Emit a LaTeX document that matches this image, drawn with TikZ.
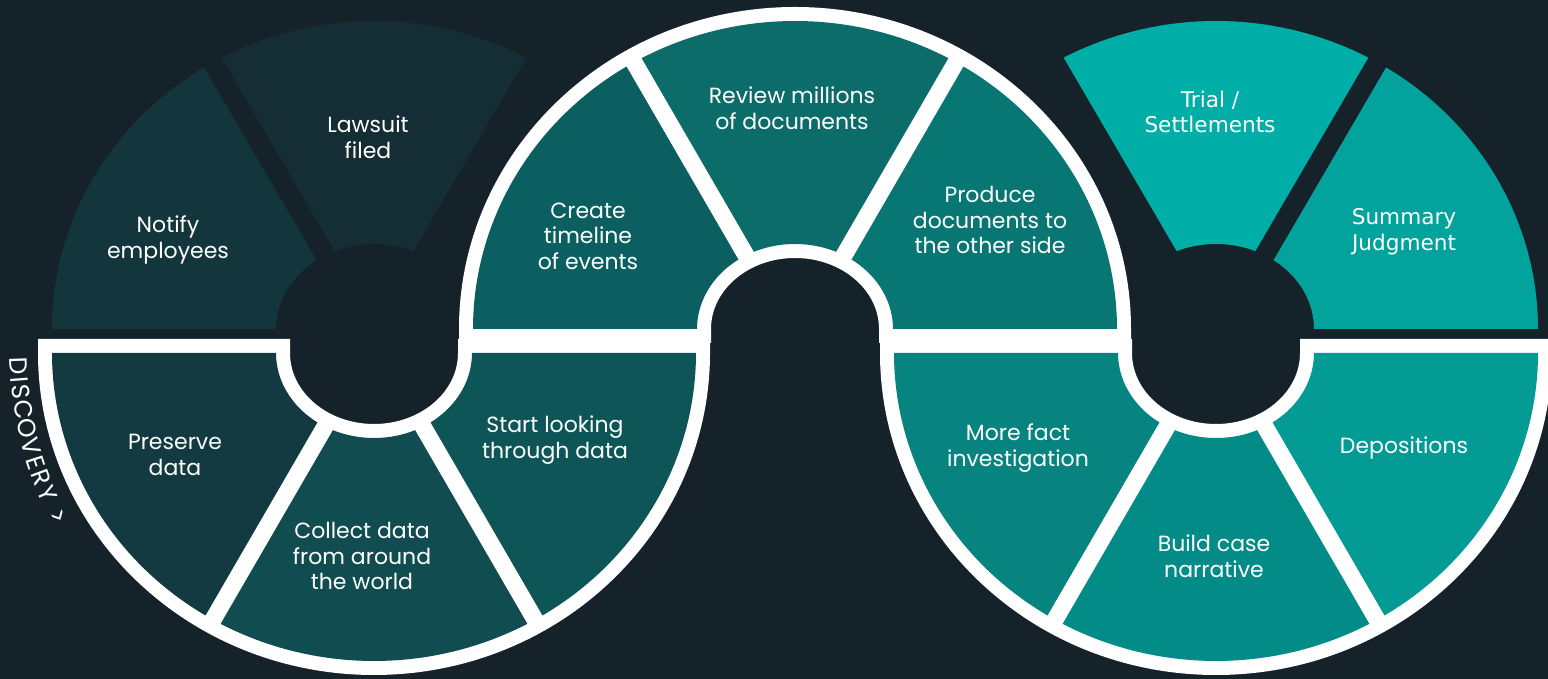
\documentclass[tikz,border=0pt]{standalone}
\usepackage{fontspec}
\setmainfont{Poppins}
\newfontfamily\dejavu{DejaVu Sans}

\definecolor{bg}{HTML}{16222A}
\definecolor{lawsuit}{HTML}{152E35}
\definecolor{notify}{HTML}{13363D}
\definecolor{preserve}{HTML}{123A40}
\definecolor{collect}{HTML}{104C50}
\definecolor{looking}{HTML}{0E5558}
\definecolor{timeline}{HTML}{0B5F61}
\definecolor{review}{HTML}{0B6C6A}
\definecolor{produce}{HTML}{087773}
\definecolor{fact}{HTML}{07847F}
\definecolor{narrative}{HTML}{038C87}
\definecolor{depositions}{HTML}{039B94}
\definecolor{summary}{HTML}{03A39D}
\definecolor{trial}{HTML}{00AEA8}

% one piece of a ring: centre x, centre y, from, to, colour
\newcommand{\seg}[5]{\fill[#5,shift={(#1,#2)}] (#3:322 and 308)
  arc[start angle=#3,end angle=#4,x radius=322,y radius=308]
  -- (#4:98 and 85) arc[start angle=#4,end angle=#3,x radius=98,y radius=85] -- cycle;}
% white band round an upper / a lower half
\newcommand{\bandup}[2]{\fill[white,shift={(#1,#2)}] (336,0)
  arc[start angle=0,end angle=180,x radius=336,y radius=322] -- (-336,-14) -- (-84,-14) -- (-84,0)
  arc[start angle=180,end angle=0,x radius=84,y radius=71] -- (84,-14) -- (336,-14) -- cycle;}
\newcommand{\banddown}[2]{\fill[white,shift={(#1,#2)}] (-336,0)
  arc[start angle=180,end angle=360,x radius=336,y radius=322] -- (336,14) -- (84,14) -- (84,0)
  arc[start angle=360,end angle=180,x radius=84,y radius=71] -- (-84,14) -- (-336,14) -- cycle;}

\tikzset{
  lbl/.style={text=white,align=center,font=\fontsize{11}{12.8}\selectfont},
  lbldv/.style={lbl,font=\dejavu\fontsize{10.8}{12.8}\selectfont},
  disco/.style={text=white,inner sep=0pt,anchor=base,font=\fontsize{12.5}{14}\selectfont},
  darkgap/.style={bg,line width=10pt},
  whitegap/.style={white,line width=8.5pt}
}

\begin{document}
\begin{tikzpicture}[x=0.5pt,y=0.5pt]
\useasboundingbox[fill=bg] (0,0) rectangle (1548,679);

% upper halves without band
\seg{374}{350}{180}{120}{notify}
\seg{374}{350}{120}{60}{lawsuit}
\seg{1216}{350}{120}{60}{trial}
\seg{1216}{350}{60}{0}{summary}
\foreach \cx in {374,1216}
  \foreach \a in {120,60}
    \draw[darkgap,shift={(\cx,350)}] (\a:80 and 68) -- (\a:345 and 330);

% the white S
\banddown{374}{326}
\bandup{795}{350}
\banddown{1216}{326}

\seg{374}{326}{180}{240}{preserve}
\seg{374}{326}{240}{300}{collect}
\seg{374}{326}{300}{360}{looking}
\seg{795}{350}{180}{120}{timeline}
\seg{795}{350}{120}{60}{review}
\seg{795}{350}{60}{0}{produce}
\seg{1216}{326}{180}{240}{fact}
\seg{1216}{326}{240}{300}{narrative}
\seg{1216}{326}{300}{360}{depositions}

\foreach \cx in {374,1216}
  \foreach \a in {240,300}
    \draw[whitegap,shift={(\cx,326)}] (\a:91 and 78) -- (\a:329 and 315);
\foreach \a in {120,60}
  \draw[whitegap,shift={(795,350)}] (\a:91 and 78) -- (\a:329 and 315);

% labels
\node[lbl] (notify) at (168,439) {Notify\\employees};
\node[lbl] (lawsuit) at (368,542) {Lawsuit\\filed};
\node[lbl] (preserve) at (175,224) {Preserve\\data};
\node[lbl] (collect) at (362,123) {Collect data\\from around\\the world};
\node[lbl] (looking) at (555,239) {Start looking\\through data};
\node[lbl] (timeline) at (588,443) {Create\\timeline\\of events};
\node[lbl] (review) at (792,571) {Review millions\\of documents};
\node[lbl] (produce) at (990,459) {Produce\\documents to\\the other side};
\node[lbl] (fact) at (1018,231) {More fact\\investigation};
\node[lbl] (narrative) at (1214,123) {Build case\\narrative};
\node[lbl] (depositions) at (1404,231) {Depositions};
\node[lbldv] (trial) at (1210,567) {Trial /\\Settlements};
\node[lbldv] (summary) at (1404,447) {Summary\\Judgment};

% DISCOVERY > round the left ring
\foreach \ch/\a [count=\i] in {D/182.1,I/184.3,S/186.3,C/189.1,O/192.2,V/195.3,E/198.0,R/200.5,Y/203.3,>/207.4}
  \node[disco,rotate=\a+90] (disco\i) at ([shift={(374,326)}]\a:364) {\ch};
\end{tikzpicture}
\end{document}
